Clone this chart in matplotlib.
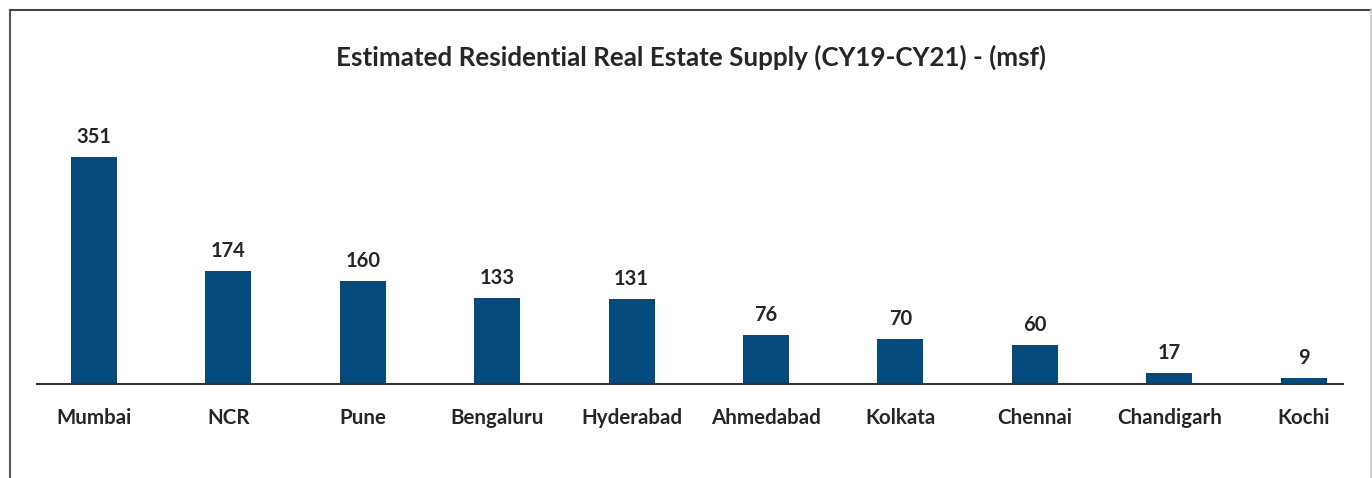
import matplotlib
matplotlib.use("Agg")
import matplotlib.pyplot as plt
from matplotlib.lines import Line2D

categories = ["Mumbai", "NCR", "Pune", "Bengaluru", "Hyderabad", "Ahmedabad",
              "Kolkata", "Chennai", "Chandigarh", "Kochi"]
supply_msf = [351, 174, 160, 133, 131, 76, 70, 60, 17, 9]
title = "Estimated Residential Real Estate Supply (CY19-CY21) - (msf)"

bar_color = "#044A7C"
text_color = "#262626"
plt.rcParams['font.family'] = ['Lato', 'DejaVu Sans']

W, H = 1372, 478
fig = plt.figure(figsize=(W / 100, H / 100), dpi=100)
fig.patch.set_facecolor("white")

# axes: baseline from x=37 to 1343, y baseline at 384
left, right = 37 / W, 1343 / W
base_y = 384
top_y = 60
ax = fig.add_axes([left, 1 - base_y / H, right - left, (base_y - top_y) / H])

x = list(range(len(categories)))
ax.bar(x, supply_msf, width=0.342, color=bar_color, zorder=2)
ax.set_xlim(-0.424, 9.293)
# 0.6467 px per unit
ymax = (base_y - top_y) / 0.6467
ax.set_ylim(0, ymax)

for xi, v in zip(x, supply_msf):
    ax.annotate(f"{v}", (xi, v), xytext=(0, 20), textcoords="offset pixels",
                ha="center", va="center", fontsize=14.5, fontweight="bold",
                color=text_color)

ax.set_xticks(x)
ax.set_xticklabels(categories, fontsize=14.8, fontweight="bold", color=text_color)
ax.tick_params(axis="x", length=0, pad=17)
ax.set_yticks([])
for s in ["top", "right", "left"]:
    ax.spines[s].set_visible(False)
ax.spines["bottom"].set_color("#333333")
ax.spines["bottom"].set_linewidth(1.5)
ax.spines["bottom"].set_zorder(3)

fig.text(691 / W, 1 - 57 / H, title, ha="center", va="center",
         fontsize=18.7, fontweight="bold", color=text_color)

# outer frame lines
fig.add_artist(Line2D([10 / W, 10 / W], [0, 1 - 10 / H], transform=fig.transFigure,
                      color="#555555", lw=1.5))
fig.add_artist(Line2D([10 / W, 1], [1 - 10 / H, 1 - 10 / H], transform=fig.transFigure,
                      color="#444444", lw=1.5))
fig.add_artist(Line2D([1370.5 / W, 1370.5 / W], [0, 1 - 10 / H], transform=fig.transFigure,
                      color="#cccccc", lw=1.2))

fig.savefig("out.png", dpi=100, facecolor="white")
